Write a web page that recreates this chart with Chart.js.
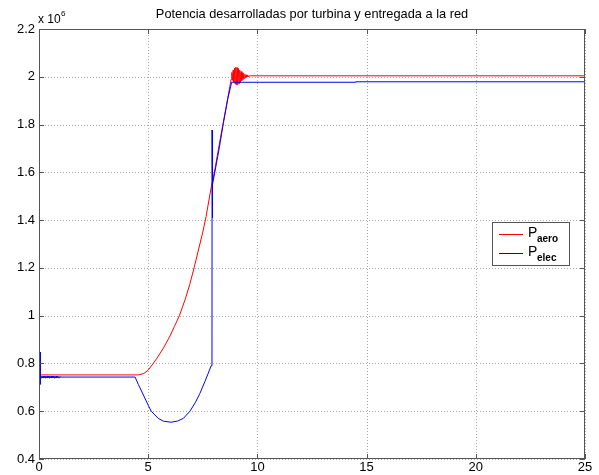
<!DOCTYPE html>
<html>
<head>
<meta charset="utf-8">
<script src="https://cdn.jsdelivr.net/npm/chart.js@4.4.1/dist/chart.umd.min.js"></script>
<style>
html,body{margin:0;padding:0;background:#fff;}
#wrap{width:599px;height:475px;position:relative;}
</style>
</head>
<body>
<div id="wrap"><canvas id="c" width="599" height="475"></canvas></div>
<script>
// ---- data (power in units of 1e6 W, time in s) ----
const chartTitle = "Potencia desarrolladas por turbina y entregada a la red";
const xTicks = [0, 5, 10, 15, 20, 25];
const yTicks = [0.4, 0.6, 0.8, 1.0, 1.2, 1.4, 1.6, 1.8, 2.0, 2.2];

const tAero = [0, 4.55, 4.8, 5.0, 5.23, 5.4, 5.7, 6.0, 6.2, 6.43, 6.7, 6.9, 7.1, 7.3, 7.5, 7.65, 7.88, 8.06, 8.25, 8.44, 8.65, 8.8,
  8.83, 8.86, 8.89, 8.92, 8.95, 8.98, 9.01, 9.04, 9.07, 9.1, 9.13, 9.16, 9.19, 9.22, 9.25, 9.28, 9.31, 9.34,
  9.37, 9.4, 9.43, 9.46, 9.49, 9.52, 9.55, 9.58, 9.61, 9.65, 9.7, 25];
const pAero = [0.752, 0.752, 0.758, 0.772, 0.800, 0.822, 0.865, 0.915, 0.955, 1.000, 1.070, 1.130, 1.200, 1.275, 1.350, 1.415, 1.535, 1.615, 1.715, 1.810, 1.915, 1.99,
  2.018, 1.985, 2.028, 1.978, 2.036, 1.970, 2.040, 1.966, 2.038, 1.968, 2.034, 1.972, 2.028, 1.978, 2.022, 1.984, 2.017, 1.989,
  2.013, 1.993, 2.010, 1.996, 2.008, 1.999, 2.006, 2.001, 2.005, 2.003, 2.004, 2.004];

const tElec = [0, 0.05, 0.055, 0.06, 0.07, 0.1, 0.13, 0.16, 0.19, 0.22, 0.25, 0.28, 0.31, 0.34, 0.37, 0.4, 0.43, 0.46, 0.49,
  0.52, 0.55, 0.58, 0.61, 0.64, 0.67, 0.7, 0.73, 0.76, 0.79, 0.82, 0.85, 0.88, 0.91, 0.94, 0.96, 1.0,
  4.40, 4.55, 4.78, 5.0, 5.14, 5.46, 5.7, 6.05, 6.35, 6.61, 6.91, 7.15, 7.37, 7.6, 7.75, 7.88, 7.92,
  7.925, 7.93, 7.935, 7.94, 7.945, 7.95, 7.955, 7.96, 8.06, 8.25, 8.44, 8.65, 8.82, 14.47, 14.5, 25];
const pElec = [0.745, 0.745, 0.848, 0.712, 0.748, 0.739, 0.747, 0.739, 0.747, 0.739, 0.747, 0.739, 0.747, 0.739, 0.747, 0.739, 0.747, 0.739, 0.747,
  0.739, 0.747, 0.739, 0.747, 0.739, 0.747, 0.739, 0.747, 0.739, 0.747, 0.739, 0.746, 0.740, 0.746, 0.740, 0.745, 0.743,
  0.743, 0.712, 0.668, 0.625, 0.600, 0.570, 0.558, 0.554, 0.559, 0.570, 0.600, 0.635, 0.675, 0.725, 0.759, 0.790, 0.800,
  1.777, 1.410, 1.570, 1.415, 1.565, 1.420, 1.560, 1.550, 1.605, 1.700, 1.805, 1.910, 1.977, 1.977, 1.979, 1.979];

const seriesNames = ["aero", "elec"];
const seriesColors = ["rgb(255,0,0)", "rgb(0,0,255)"];

const toXY = (ts, vs) => ts.map((t, i) => ({x: t, y: vs[i]}));

const FONT = "'Liberation Sans', Arial, Helvetica, sans-serif";

const gridPlugin = {
  id: 'dottedGrid',
  beforeDatasetsDraw(chart) {
    const ctx = chart.ctx;
    const a = chart.chartArea;
    const xs = chart.scales.x, ys = chart.scales.y;
    ctx.save();
    ctx.strokeStyle = '#a8a8a8';
    ctx.lineWidth = 1;
    ctx.setLineDash([1, 2]);
    ctx.beginPath();
    xTicks.forEach(v => {
      const px = Math.round(xs.getPixelForValue(v)) + 0.5;
      ctx.moveTo(px, a.top); ctx.lineTo(px, a.bottom);
    });
    yTicks.forEach(v => {
      const py = Math.round(ys.getPixelForValue(v)) + 0.5;
      ctx.moveTo(a.left, py); ctx.lineTo(a.right, py);
    });
    ctx.stroke();
    ctx.restore();
  }
};

const decor = {
  id: 'decor',
  afterDraw(chart) {
    const ctx = chart.ctx;
    const a = chart.chartArea;
    const xs = chart.scales.x, ys = chart.scales.y;
    ctx.save();
    // frame
    ctx.strokeStyle = '#555';
    ctx.lineWidth = 1;
    ctx.strokeRect(a.left + 0.5, a.top + 0.5, a.right - a.left - 1, a.bottom - a.top - 1);
    // inward ticks
    ctx.beginPath();
    const tl = 5;
    xTicks.forEach(v => {
      const px = Math.round(xs.getPixelForValue(v)) + 0.5;
      ctx.moveTo(px, a.bottom); ctx.lineTo(px, a.bottom - tl);
      ctx.moveTo(px, a.top); ctx.lineTo(px, a.top + tl);
    });
    yTicks.forEach(v => {
      const py = Math.round(ys.getPixelForValue(v)) + 0.5;
      ctx.moveTo(a.left, py); ctx.lineTo(a.left + tl, py);
      ctx.moveTo(a.right, py); ctx.lineTo(a.right - tl, py);
    });
    ctx.stroke();
    // title
    ctx.fillStyle = '#000';
    ctx.font = '12.8px ' + FONT;
    ctx.textAlign = 'center';
    ctx.textBaseline = 'alphabetic';
    ctx.fillText(chartTitle, (a.left + a.right) / 2, 18);
    // exponent label
    ctx.textAlign = 'left';
    ctx.font = '12px ' + FONT;
    ctx.fillText('x 10', 38, 23);
    ctx.font = '8px ' + FONT;
    ctx.fillText('6', 61, 16);
    // legend
    const bx = 492, by = 222, bw = 77, bh = 43;
    ctx.fillStyle = '#fff';
    ctx.fillRect(bx, by, bw, bh);
    ctx.strokeStyle = '#555';
    ctx.strokeRect(bx + 0.5, by + 0.5, bw, bh);
    const rows = [234, 253];
    rows.forEach((ly, i) => {
      ctx.strokeStyle = seriesColors[i];
      ctx.beginPath();
      ctx.moveTo(499, ly + 0.5); ctx.lineTo(523, ly + 0.5);
      ctx.stroke();
      ctx.fillStyle = '#000';
      ctx.font = '14px ' + FONT;
      ctx.fillText('P', 528, ly + 3);
      ctx.font = 'bold 10px ' + FONT;
      ctx.fillText(seriesNames[i], 537, ly + 8);
    });
    ctx.restore();
  }
};

new Chart(document.getElementById('c'), {
  type: 'scatter',
  data: {
    datasets: [
      {label: 'P_aero', data: toXY(tAero, pAero), showLine: true, borderColor: seriesColors[0], borderWidth: 1, pointRadius: 0, tension: 0, order: 1},
      {label: 'P_elec', data: toXY(tElec, pElec), showLine: true, borderColor: seriesColors[1], borderWidth: 1, pointRadius: 0, tension: 0, order: 0}
    ]
  },
  options: {
    responsive: false,
    animation: false,
    devicePixelRatio: 1,
    layout: {padding: {top: 29, right: 14, left: 0, bottom: 0}},
    plugins: {legend: {display: false}, title: {display: false}, tooltip: {enabled: false}},
    scales: {
      x: {
        type: 'linear', min: 0, max: 25,
        afterBuildTicks: s => { s.ticks = xTicks.map(v => ({value: v})); },
        afterFit: s => { s.height = 16; },
        ticks: {color: '#000', font: {family: FONT, size: 13}, padding: 1, maxRotation: 0},
        grid: {display: false, drawTicks: false},
        border: {display: false}
      },
      y: {
        type: 'linear', min: 0.4, max: 2.2,
        afterBuildTicks: s => { s.ticks = yTicks.map(v => ({value: v})); },
        afterFit: s => { s.width = 39; },
        ticks: {color: '#000', font: {family: FONT, size: 13}, padding: 4,
          callback: v => String(Number(v.toFixed(1)))},
        grid: {display: false, drawTicks: false},
        border: {display: false}
      }
    }
  },
  plugins: [gridPlugin, decor]
});
</script>
</body>
</html>
